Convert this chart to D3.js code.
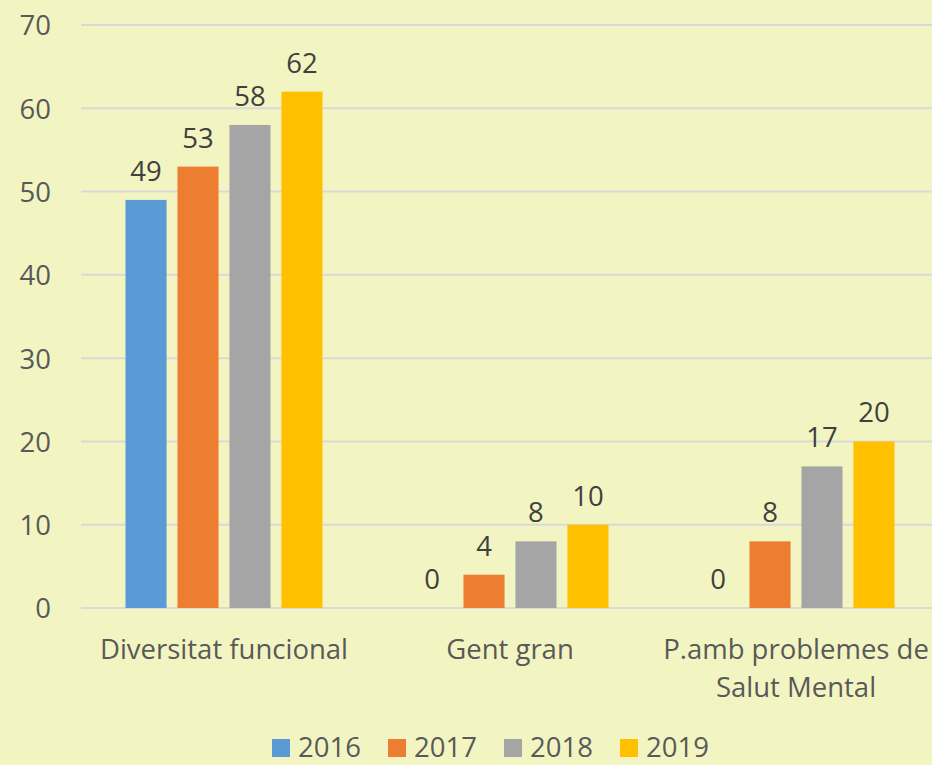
<!DOCTYPE html>
<html>
<head>
<meta charset="utf-8">
<script src="https://cdn.jsdelivr.net/npm/d3@7"></script>
<style>
  body { margin: 0; background: #F2F5C1; }
  svg text { font-family: "Open Sans", sans-serif; font-size: 27.5px; }
  .yAxis text, .xLabel, .legendLabel { fill: #595959; }
  .valueLabel { fill: #404040; }
</style>
</head>
<body>
<div id="chart"></div>
<script>
const categories = [['Diversitat funcional'], ['Gent gran'], ['P.amb problemes de', 'Salut Mental']];
const years = ['2016', '2017', '2018', '2019'];
const values = {
    '2016': [49, 0, 0],
    '2017': [53, 4, 8],
    '2018': [58, 8, 17],
    '2019': [62, 10, 20]
};
const yTicks = [0, 10, 20, 30, 40, 50, 60, 70];
const colors = ['#5B9BD5', '#ED7D31', '#A5A5A5', '#FFC000'];

function draw_chart () {
    let margin = {top: 25, right: 0, bottom: 157, left: 81};
    let width = 858;
    let height = 765 - margin.top - margin.bottom;
    let svg = d3.select('#chart').append('svg')
        .attr('width', 932)
        .attr('height', 765)
        .append('g')
        .attr('transform', 'translate(' + margin.left + ',' + margin.top + ')');
    let x0 = d3.scaleBand()
        .domain(d3.range(categories.length))
        .range([0, width]);
    let x1 = d3.scaleBand()
        .domain(years)
        .range([44.5, x0.bandwidth() - 44.5])
        .paddingInner(0.21);
    let y = d3.scaleLinear()
        .range([height, 0])
        .domain([0, 70]);
    let color = d3.scaleOrdinal().domain(years).range(colors);

    svg.append('g') // gridlines
        .selectAll('line')
        .data(yTicks).enter().append('line')
        .attr('x1', 0)
        .attr('x2', 932 - margin.left)
        .attr('y1', d => y(d))
        .attr('y2', d => y(d))
        .attr('stroke', '#D9D9D9')
        .attr('stroke-width', 2);
    let yAxis = svg.append('g') // y axis labels
        .attr('class', 'yAxis')
        .call(d3.axisLeft(y).tickValues(yTicks).tickSize(0).tickPadding(30));
    yAxis.select('.domain').remove();
    yAxis.selectAll('text')
        .attr('dy', '0.36em');
    yAxis.attr('font-size', null).attr('font-family', null);

    let groups = svg.append('g').selectAll('g')
        .data(categories.map((c, i) => i)).enter().append('g')
        .attr('transform', d => 'translate(' + x0(d) + ',0)');
    groups.selectAll('rect') // bars
        .data(i => years.map(yr => ({year: yr, value: values[yr][i]}))).enter().append('rect')
        .attr('x', d => x1(d.year))
        .attr('y', d => y(d.value))
        .attr('width', x1.bandwidth())
        .attr('height', d => y(0) - y(d.value))
        .attr('fill', d => color(d.year));
    groups.selectAll('.valueLabel') // value labels
        .data(i => years.map(yr => ({year: yr, value: values[yr][i]}))).enter().append('text')
        .attr('class', 'valueLabel')
        .attr('x', d => x1(d.year) + x1.bandwidth() / 2)
        .attr('y', d => y(d.value) - 19)
        .attr('text-anchor', 'middle')
        .text(d => d.value);
    groups.append('text') // category labels
        .attr('class', 'xLabel')
        .attr('x', x0.bandwidth() / 2)
        .attr('y', height + 51)
        .attr('text-anchor', 'middle')
        .selectAll('tspan')
        .data(i => categories[i]).enter().append('tspan')
        .attr('x', x0.bandwidth() / 2)
        .attr('dy', (d, j) => j === 0 ? 0 : 38)
        .text(d => d);

    let legend = svg.append('g') // legend
        .attr('transform', 'translate(' + (272 - margin.left) + ',' + (739 - margin.top) + ')');
    let item = legend.selectAll('g')
        .data(years).enter().append('g')
        .attr('transform', (d, i) => 'translate(' + (i * 116) + ',0)');
    item.append('rect')
        .attr('width', 18)
        .attr('height', 18)
        .attr('fill', d => color(d));
    item.append('text')
        .attr('class', 'legendLabel')
        .attr('x', 26)
        .attr('y', 18)
        .text(d => d);
}
draw_chart();
</script>
</body>
</html>
